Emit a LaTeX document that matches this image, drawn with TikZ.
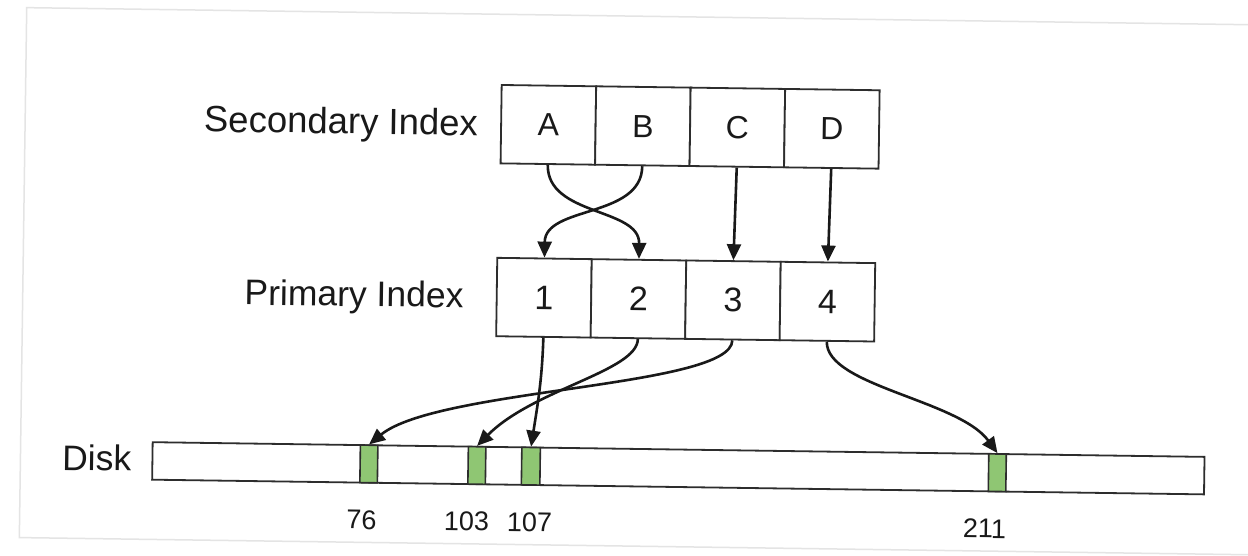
\documentclass[tikz,border=0pt]{standalone}
\usepackage{fontspec}
\setmainfont{Liberation Sans}
\usetikzlibrary{arrows.meta}
\definecolor{ink}{RGB}{25,25,25}
\definecolor{boxline}{RGB}{45,45,45}
\definecolor{blockgreen}{RGB}{143,198,115}
\definecolor{framegray}{RGB}{228,228,228}
\begin{document}
\begin{tikzpicture}[x=1pt,y=1pt,
  cell/.style={draw=boxline, line width=1.8pt, fill=white, minimum width=94.5pt, minimum height=78.4pt, inner sep=0pt, text=ink, font=\fontsize{32}{38}\selectfont},
  numcell/.style={cell, font=\fontsize{34}{40}\selectfont},
  headtext/.style={inner sep=0pt, text=ink, anchor=base east},
  diskbar/.style={draw=boxline, line width=1.8pt, fill=white, minimum width=1052pt, minimum height=37.5pt, inner sep=0pt},
  block/.style={draw=boxline, line width=1.6pt, fill=blockgreen, minimum width=17.5pt, minimum height=37.5pt, inner sep=0pt},
  addr/.style={inner sep=0pt, text=ink, font=\fontsize{27}{32}\selectfont},
  link/.style={draw=ink, line width=2.6pt, -{Triangle[length=16pt,width=14pt]}},
]
\clip (0,0) rectangle (1248,-555);
\fill[white] (0,0) rectangle (1248,-555);
\begin{scope}[rotate around={-0.8:(624,-277)}, transform shape]
\draw[framegray, line width=1.5pt] (1400,-16) -- (23,-16) -- (23,-546) -- (1400,-546);
% labels
\node[headtext, font=\fontsize{36.5}{43}\selectfont] (lblSec) at (476,-137.7) {Secondary Index};
\node[headtext, font=\fontsize{35.5}{42}\selectfont] (lblPri) at (464,-310) {Primary Index};
\node[headtext, font=\fontsize{35.5}{42}\selectfont] (lblDisk) at (134,-478) {Disk};
% secondary index
\node[cell] (sA) at (546.25,-125.9) {A};
\node[cell] (sB) at (640.75,-125.9) {B};
\node[cell] (sC) at (735.25,-125.9) {C};
\node[cell] (sD) at (829.75,-125.9) {D};
% primary index
\node[numcell] (p1) at (544.25,-298.8) {1};
\node[numcell] (p2) at (638.75,-298.8) {2};
\node[numcell] (p3) at (733.25,-298.8) {3};
\node[numcell] (p4) at (827.75,-298.8) {4};
% disk
\node[diskbar] (disk) at (681,-467.5) {};
\node[block] (b76) at (371.5,-467.5) {};
\node[block] (b103) at (479.5,-467.5) {};
\node[block, minimum width=18.5pt] (b107) at (533.5,-467.5) {};
\node[block] (b211) at (1000,-467.5) {};
\node[addr] (t76) at (365,-523.5) {76};
\node[addr] (t103) at (470,-523.5) {103};
\node[addr] (t107) at (533,-523.5) {107};
\node[addr] (t211) at (988,-523.5) {211};
% connectors
\draw[link] (sA.south) to[out=-90,in=90] (p2.north);
\draw[link] (sB.south) to[out=-90,in=90] (p1.north);
\draw[link] (sC.south) -- (p3.north);
\draw[link] (sD.south) -- (p4.north);
\draw[link] (p1.south) to[out=-91,in=82] (b107.north);
\draw[link] (p2.south) to[out=-90,in=46,out distance=32pt,in distance=80pt] (b103.north);
\draw[link] (p3.south) to[out=-90,in=40,out distance=47pt,in distance=89pt] (b76.north);
\draw[link] (p4.south) to[out=-90,in=127,out distance=44pt,in distance=66pt] (b211.north);
\end{scope}
\end{tikzpicture}
\end{document}
